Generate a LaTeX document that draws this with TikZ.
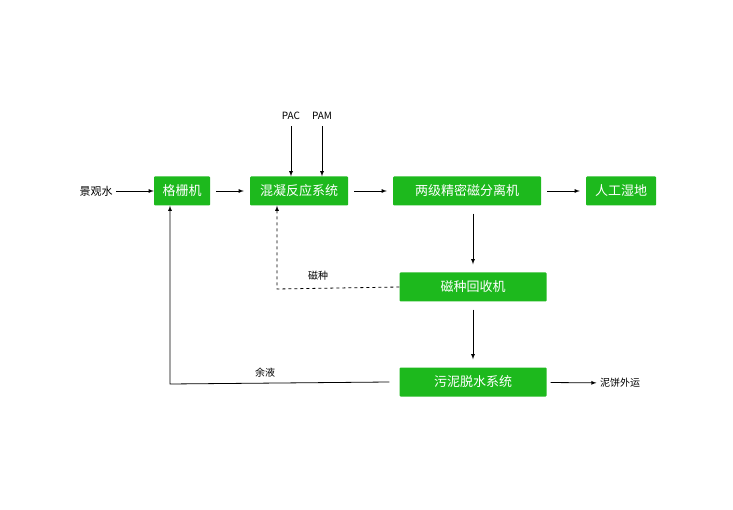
\documentclass[tikz,border=0pt]{standalone}
\usepackage{fontspec}
\setmainfont{Noto Sans CJK SC}
\usetikzlibrary{positioning}
\definecolor{boxgreen}{HTML}{1DB91D}
\begin{document}
\begin{tikzpicture}[x=1pt,y=-1pt]
    \tikzstyle{box} = [rectangle, fill=boxgreen, text=white, minimum height=29pt, inner xsep=5pt, font=\fontsize{13}{13}\selectfont, rounded corners=1pt]
    \tikzstyle{lbl} = [font=\fontsize{10}{10}\selectfont]
    \tikzstyle{arrow} = [thick,-latex]
    \useasboundingbox (0,0) rectangle (733,510);

    \node (grid) [box, minimum width=56pt] at (182,191) {格栅机};
    \node (coag) [box, minimum width=98pt] at (299,191) {混凝反应系统};
    \node (mag) [box, minimum width=148pt] at (467,191) {两级精密磁分离机};
    \node (wet) [box, minimum width=70pt] at (621,191) {人工湿地};
    \node (rec) [box, minimum width=147pt] at (473,287) {磁种回收机};
    \node (sludge) [box, minimum width=147pt] at (473,382) {污泥脱水系统};
    \node (water) [lbl, font=\fontsize{11}{11}\selectfont] at (96,191) {景观水};
    \node (cake) [lbl] at (620,383) {泥饼外运};
    \node (pac) [lbl] at (291,116) {PAC};
    \node (pam) [lbl] at (322,116) {PAM};
    \coordinate (c1) at (277,289);
    \coordinate (c2) at (170,384);

    \draw [arrow] (water) -- (grid);
    \draw [arrow, shorten <=6pt, shorten >=6pt] (grid) -- (coag);
    \draw [arrow, shorten <=6pt, shorten >=6pt] (coag) -- (mag);
    \draw [arrow, shorten <=6pt, shorten >=6pt] (mag) -- (wet);
    \draw [arrow, shorten <=3pt] (pac) -- (pac |- coag.north);
    \draw [arrow, shorten <=3pt] (pam) -- (pam |- coag.north);
    \draw [arrow, shorten <=8pt, shorten >=8pt] (mag.south -| rec) -- (rec);
    \draw [arrow, shorten <=8pt, shorten >=8pt] (rec) -- (sludge);
    \draw [arrow, shorten <=4pt] (sludge) -- (cake);
    \draw [thick, dashed, -latex] (rec.west) -- (c1) -- (c1 |- coag.south);
    \draw [thick, -latex] ([xshift=-10pt]sludge.west) -- (c2) -- (c2 |- grid.south);
    \node [lbl] at (318,276) {磁种};
    \node [lbl] at (265,373) {余液};
\end{tikzpicture}
\end{document}
